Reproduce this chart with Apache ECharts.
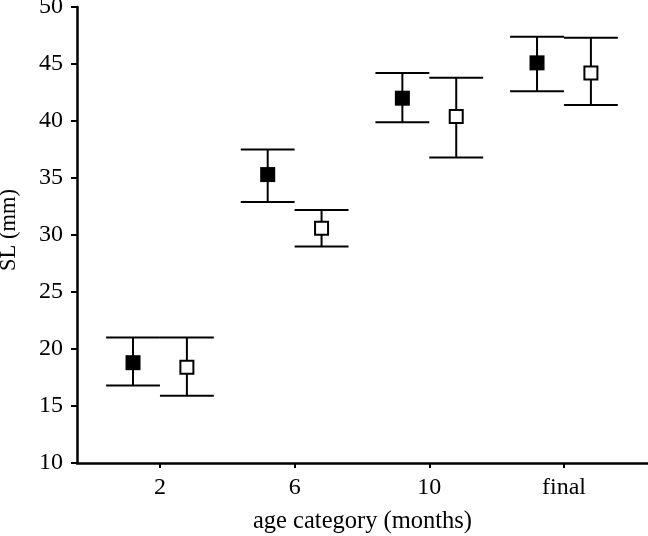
<!DOCTYPE html>
<html>
<head>
<meta charset="utf-8">
<script src="https://cdn.jsdelivr.net/npm/echarts@6/dist/echarts.min.js"></script>
<style>
html,body{margin:0;padding:0;background:#fff;}
#chart{width:648px;height:536px;}
</style>
</head>
<body>
<div id="chart"></div>
<script>
// ---- data ----
const categories = ['2', '6', '10', 'final'];
const filledMean  = [18.8, 35.3, 42.0, 45.1];
const filledUpper = [21.0, 37.5, 44.2, 47.4];
const filledLower = [16.8, 32.9, 39.9, 42.6];
const openMean  = [18.4, 30.6, 40.4, 44.2];
const openUpper = [21.0, 32.2, 43.8, 47.3];
const openLower = [15.9, 29.0, 36.8, 41.4];
const yMin = 10, yMax = 50, yStep = 5;
const xTitle = 'age category (months)';
const yTitle = 'SL (mm)';

// ---- layout/style constants ----
const OFFSET = 0.2;           // horizontal dodge in category units
const FONT = 'Liberation Serif';
const catIdx = categories.map((c, i) => i);

function errData(lower, upper, sign) {
  return catIdx.map(i => [i + sign * OFFSET, lower[i], upper[i]]);
}
function ptData(mean, sign) {
  return catIdx.map(i => [i + sign * OFFSET, mean[i]]);
}
function renderErr(params, api) {
  const x = api.value(0);
  const lo = api.coord([x, api.value(1)]);
  const hi = api.coord([x, api.value(2)]);
  const half = api.size([OFFSET, 0])[0];
  const style = { stroke: '#000', lineWidth: 2, fill: null };
  return {
    type: 'group',
    children: [
      { type: 'line', shape: { x1: lo[0], y1: lo[1], x2: hi[0], y2: hi[1] }, style },
      { type: 'line', shape: { x1: hi[0] - half, y1: hi[1], x2: hi[0] + half, y2: hi[1] }, style },
      { type: 'line', shape: { x1: lo[0] - half, y1: lo[1], x2: lo[0] + half, y2: lo[1] }, style }
    ]
  };
}

const chart = echarts.init(document.getElementById('chart'), null, { renderer: 'canvas' });
chart.setOption({
  backgroundColor: '#fff',
  animation: false,
  grid: { left: 77, right: 0, top: 7, bottom: 73, containLabel: false, outerBoundsMode: 'none' },
  xAxis: {
    type: 'value',
    min: -0.616, max: 3.624,
    name: xTitle, nameLocation: 'middle', nameGap: 46,
    nameTextStyle: { fontFamily: FONT, fontSize: 24.5, color: '#000' },
    splitLine: { show: false },
    axisLine: { show: true, onZero: false, lineStyle: { color: '#000', width: 2.5 } },
    axisTick: { show: true, customValues: catIdx, length: 5, lineStyle: { color: '#000', width: 2 } },
    axisLabel: {
      customValues: catIdx,
      formatter: v => categories[Math.round(v)],
      fontFamily: FONT, fontSize: 24, color: '#000', margin: 13
    }
  },
  yAxis: {
    type: 'value',
    min: yMin, max: yMax, interval: yStep,
    name: yTitle, nameLocation: 'middle', nameGap: 56, nameRotate: 90,
    nameTextStyle: { fontFamily: FONT, fontSize: 22.5, color: '#000', padding: [0, 0, 0, 10] },
    splitLine: { show: false },
    axisLine: { show: true, onZero: false, lineStyle: { color: '#000', width: 2.5 } },
    axisTick: { show: true, length: 6, lineStyle: { color: '#000', width: 2 } },
    axisLabel: { fontFamily: FONT, fontSize: 24, color: '#000', margin: 14 }
  },
  series: [
    { type: 'custom', renderItem: renderErr, data: errData(filledLower, filledUpper, -1), z: 2, clip: false },
    { type: 'custom', renderItem: renderErr, data: errData(openLower, openUpper, 1), z: 2, clip: false },
    { type: 'scatter', data: ptData(filledMean, -1), symbol: 'rect', symbolSize: 15,
      itemStyle: { color: '#000', opacity: 1 }, z: 5 },
    { type: 'scatter', data: ptData(openMean, 1), symbol: 'rect', symbolSize: 13,
      itemStyle: { color: '#fff', borderColor: '#000', borderWidth: 2, opacity: 1 }, z: 5 }
  ]
});
</script>
</body>
</html>
